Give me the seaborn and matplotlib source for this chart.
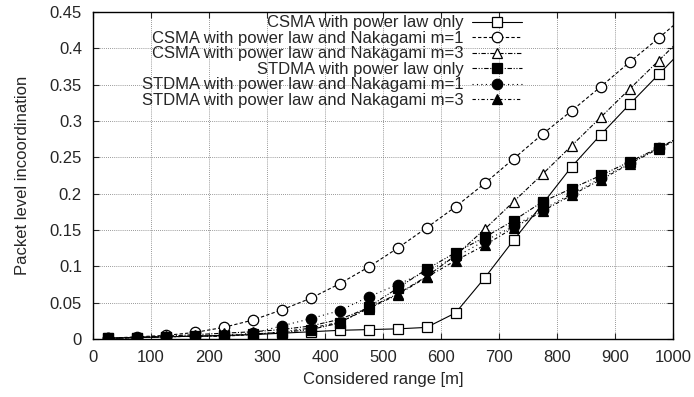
import matplotlib
matplotlib.use("Agg")
import matplotlib.pyplot as plt
import seaborn as sns

# considered range [m] (last point lies just past the axis and gets clipped)
ranges = [25, 75, 125, 175, 225, 275, 325, 375, 425, 475, 525, 575,
          625, 675, 725, 775, 825, 875, 925, 975, 1025]

csma_pl = [0.001, 0.002, 0.003, 0.004, 0.005, 0.006, 0.008, 0.010, 0.012, 0.013, 0.014, 0.016,
           0.036, 0.084, 0.136, 0.186, 0.237, 0.281, 0.323, 0.364, 0.405]
csma_m1 = [0.001, 0.003, 0.005, 0.009, 0.016, 0.026, 0.040, 0.056, 0.076, 0.099, 0.125, 0.153,
           0.182, 0.214, 0.248, 0.282, 0.314, 0.347, 0.381, 0.414, 0.448]
csma_m3 = [0.001, 0.002, 0.004, 0.006, 0.008, 0.010, 0.013, 0.018, 0.027, 0.043, 0.062, 0.086,
           0.115, 0.151, 0.189, 0.227, 0.266, 0.305, 0.344, 0.383, 0.422]
stdma_pl = [0.001, 0.002, 0.003, 0.004, 0.004, 0.007, 0.009, 0.013, 0.022, 0.044, 0.070, 0.096,
            0.119, 0.140, 0.163, 0.189, 0.207, 0.225, 0.244, 0.263, 0.283]
stdma_m1 = [0.001, 0.002, 0.003, 0.004, 0.005, 0.008, 0.018, 0.028, 0.039, 0.058, 0.075, 0.093,
            0.113, 0.135, 0.155, 0.178, 0.200, 0.221, 0.242, 0.263, 0.283]
stdma_m3 = [0.001, 0.002, 0.003, 0.004, 0.004, 0.006, 0.010, 0.015, 0.023, 0.042, 0.061, 0.085,
            0.108, 0.129, 0.153, 0.176, 0.198, 0.219, 0.241, 0.262, 0.281]

labels = ["CSMA with power law only",
          "CSMA with power law and Nakagami m=1",
          "CSMA with power law and Nakagami m=3",
          "STDMA with power law only",
          "STDMA with power law and Nakagami m=1",
          "STDMA with power law and Nakagami m=3"]
series = [csma_pl, csma_m1, csma_m3, stdma_pl, stdma_m1, stdma_m3]

# gnuplot-ish styles: marker, face, dash pattern
styles = [
    ("s", "white", "-"),
    ("o", "white", (0, (3, 2))),
    ("^", "white", (0, (4, 1.5, 1, 1.5))),
    ("s", "black", (0, (4, 1.5, 1, 1.5, 1, 1.5))),
    ("o", "black", (0, (1, 3))),
    ("^", "black", (0, (3, 2, 1, 2))),
]

sns.set_style("ticks")
plt.rcParams["font.family"] = ["Liberation Sans", "DejaVu Sans"]

fig = plt.figure(figsize=(6.94, 3.97), dpi=100)
ax = fig.add_axes([0.134, 0.146, 0.836, 0.824])

for lab, ys, (mk, face, ls) in zip(labels, series, styles):
    sns.lineplot(x=ranges, y=ys, ax=ax, label=lab, color="black", linewidth=0.8,
                 linestyle=ls, marker=mk, markersize=7.5, markerfacecolor=face,
                 markeredgecolor="black", markeredgewidth=0.9)

ax.set_xlim(0, 1000)
ax.set_ylim(0, 0.45)
ax.set_xticks(range(0, 1001, 100))
ax.set_yticks([i * 0.05 for i in range(10)])
ax.set_yticklabels(["0", "0.05", "0.1", "0.15", "0.2", "0.25", "0.3", "0.35", "0.4", "0.45"])
ax.grid(True, color="#777777", linestyle=(0, (1, 1.5)), linewidth=0.6)
ax.tick_params(direction="in", top=True, right=True, labelsize=12, length=4, pad=8)
for sp in ax.spines.values():
    sp.set_linewidth(1.0)
    sp.set_color("black")

ax.set_xlabel("Considered range [m]", fontsize=12, labelpad=5)
ax.set_ylabel("Packet level incoordination", fontsize=12, labelpad=14)

leg = ax.legend(loc="upper right", bbox_to_anchor=(0.76, 1.025), frameon=False,
                markerfirst=False, fontsize=12, handlelength=3.0, labelspacing=0.03,
                handletextpad=0.5, borderaxespad=0.3)
for t in leg.get_texts():
    t.set_ha("right")
leg._legend_box.align = "right"

fig.savefig("out.png", dpi=100)
